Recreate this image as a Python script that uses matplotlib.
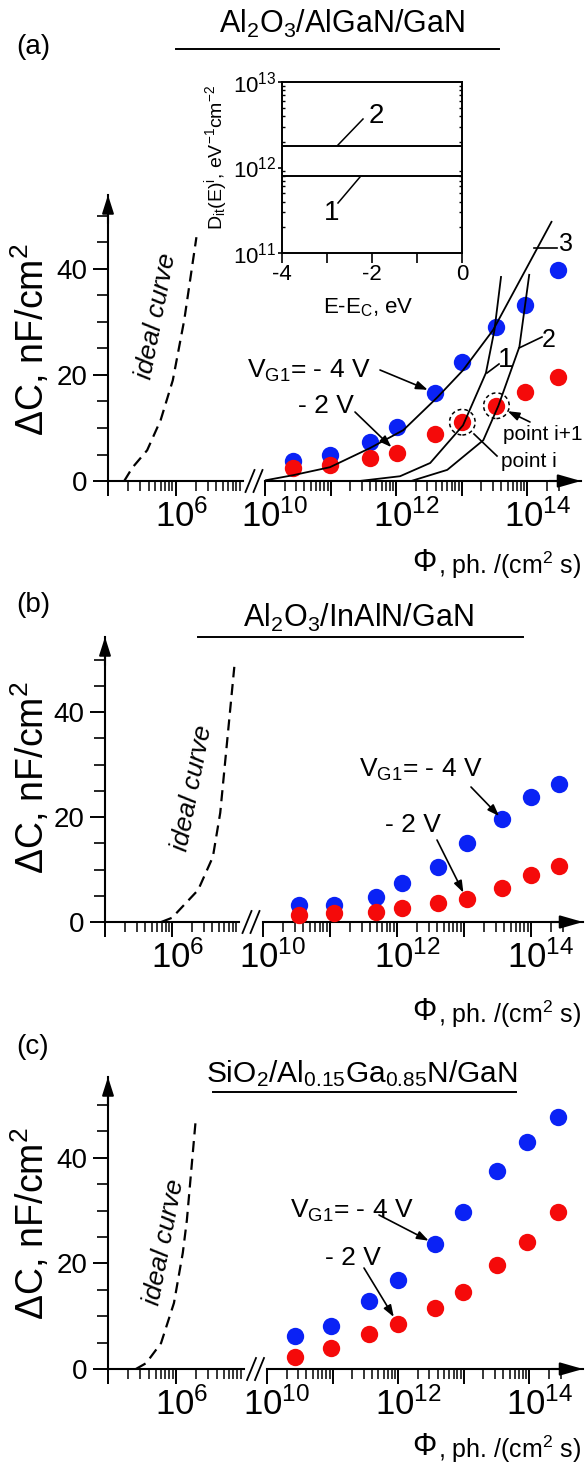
import numpy as np
import matplotlib
matplotlib.use('Agg')
import matplotlib.pyplot as plt
from matplotlib.lines import Line2D
from matplotlib.ticker import FixedLocator, FuncFormatter, LogFormatterMathtext
from matplotlib.transforms import ScaledTranslation

plt.rcParams['font.family'] = ['Liberation Sans', 'DejaVu Sans']
plt.rcParams['mathtext.fontset'] = 'custom'
plt.rcParams['mathtext.rm'] = 'Liberation Sans'
plt.rcParams['mathtext.it'] = 'Liberation Sans:italic'
plt.rcParams['mathtext.bf'] = 'Liberation Sans:bold'
plt.rcParams['axes.unicode_minus'] = False

W, H = 586, 1475
BLUE = '#0a22f5'
RED = '#f50a0a'

# ---- (a) Al2O3/AlGaN/GaN ----
LOGPHI_A = [10.43, 10.99, 11.60, 12.02, 12.60, 13.01, 13.53, 13.97, 14.47]
DC_A_4V = [3.8, 5.0, 7.4, 10.2, 16.6, 22.5, 29.0, 33.2, 39.8]
DC_A_2V = [2.5, 3.0, 4.3, 5.3, 8.9, 11.1, 14.2, 16.8, 19.6]
IDEAL_A_LOG = [5.24, 5.36, 5.58, 5.78, 5.96, 6.13, 6.31]
IDEAL_A_DC = [0.0, 2.5, 5.8, 11.5, 19.0, 30.4, 46.0]
CURVE1_LOG = [11.44, 12.06, 12.52, 13.02, 13.37, 13.50, 13.60]
CURVE1_DC = [0.0, 0.9, 3.4, 10.5, 20.4, 28.5, 38.5]
CURVE2_LOG = [12.23, 12.78, 13.33, 13.56, 13.88, 14.03]
CURVE2_DC = [0.0, 2.1, 7.7, 14.2, 25.3, 38.9]
CURVE3_LOG = [9.95, 10.43, 10.99, 11.60, 12.11, 12.63, 13.02, 13.48, 14.37]
CURVE3_DC = [0.0, 1.1, 2.6, 6.2, 9.6, 15.8, 20.9, 28.5, 48.9]

# inset: trap density profiles
E_EC = [-4.0, 0.0]
DIT_1 = [8.0e11, 8.0e11]
DIT_2 = [1.8e12, 1.8e12]

# ---- (b) Al2O3/InAlN/GaN ----
LOGPHI_B = [10.54, 11.06, 11.69, 12.07, 12.61, 13.04, 13.57, 14.00, 14.42]
DC_B_4V = [3.2, 3.2, 4.8, 7.4, 10.5, 15.0, 19.6, 23.8, 26.3]
DC_B_2V = [1.3, 1.7, 1.9, 2.7, 3.6, 4.4, 6.5, 9.0, 10.7]
IDEAL_B_LOG = [5.84, 6.00, 6.39, 6.61, 6.72, 6.93]
IDEAL_B_DC = [0.0, 0.8, 6.1, 12.4, 20.8, 48.6]

# ---- (c) SiO2/Al0.15Ga0.85N/GaN ----
LOGPHI_C = [10.43, 10.98, 11.56, 12.00, 12.56, 12.99, 13.51, 13.97, 14.44]
DC_C_4V = [6.2, 8.1, 12.9, 16.9, 23.7, 29.7, 37.5, 43.0, 47.7]
DC_C_2V = [2.3, 4.0, 6.6, 8.5, 11.6, 14.6, 19.7, 24.1, 29.7]
IDEAL_C_LOG = [5.41, 5.56, 5.78, 5.97, 6.10, 6.16, 6.29]
IDEAL_C_DC = [0.0, 1.1, 4.9, 12.5, 22.0, 28.2, 47.2]

fig = plt.figure(figsize=(W / 100, H / 100), dpi=100)


def fbox(x0, y0, x1, y1):
    """pixel box (origin top-left) -> figure rect"""
    return [x0 / W, 1 - y1 / H, (x1 - x0) / W, (y1 - y0) / H]


def fxy(x, y):
    return (x / W, 1 - y / H)


def line_px(x0, y0, x1, y1, lw=1.3):
    fig.add_artist(Line2D([x0 / W, x1 / W], [1 - y0 / H, 1 - y1 / H],
                          transform=fig.transFigure, color='k', lw=lw))


def text_px(x, y, s, **kw):
    kw.setdefault('ha', 'center')
    kw.setdefault('va', 'center')
    fig.text(x / W, 1 - y / H, s, **kw)


def shift_xlabels(ax, dx_px):
    # centre the mantissa "10" (not the whole label) under its tick
    off = ScaledTranslation(dx_px / 100, 0, fig.dpi_scale_trans)
    for t in ax.xaxis.get_major_ticks():
        t.label1.set_transform(t.label1.get_transform() + off)


def make_panel(xl0, xl1, xr0, xr1, y_zero, y_top, px_per_unit, right_end):
    ymax = (y_zero - y_top) / px_per_unit
    ax_l = fig.add_axes(fbox(xl0, y_top, xl1, y_zero))
    ax_r = fig.add_axes(fbox(xr0, y_top, xr1, y_zero))
    for ax in (ax_l, ax_r):
        ax.patch.set_visible(False)
        ax.set_xscale('log')
        ax.set_ylim(0, ymax)
        ax.spines['top'].set_visible(False)
        ax.spines['right'].set_visible(False)
        ax.spines['bottom'].set_linewidth(1.5)
        ax.spines['left'].set_linewidth(1.5)
        ax.tick_params(axis='x', which='major', direction='out', length=10.5,
                       width=1.4, labelsize=25, pad=3)
        ax.tick_params(axis='x', which='minor', direction='out', length=7,
                       width=1.1)
    ax_l.set_xlim(1e5, 1e7)
    ax_r.set_xlim(1e10, 10 ** right_end)
    ax_r.spines['left'].set_visible(False)
    ax_r.set_yticks([])

    ax_l.xaxis.set_major_locator(FixedLocator([1e5, 1e6]))
    ax_l.xaxis.set_minor_locator(FixedLocator(
        [m * 10.0 ** e for e in (5, 6) for m in range(2, 10)]))
    ax_r.xaxis.set_major_locator(FixedLocator([10.0 ** e for e in range(10, 15)]))
    ax_r.xaxis.set_minor_locator(FixedLocator(
        [m * 10.0 ** e for e in range(10, 15) for m in range(2, 10)
         if m * 10.0 ** e <= 3.1e14]))

    def fmt_l(v, pos):
        return r'$\mathdefault{10^{6}}$' if abs(np.log10(v) - 6) < 0.01 else ''

    def fmt_r(v, pos):
        e = int(round(np.log10(v)))
        return r'$\mathdefault{10^{%d}}$' % e if e % 2 == 0 else ''

    ax_l.xaxis.set_major_formatter(FuncFormatter(fmt_l))
    ax_r.xaxis.set_major_formatter(FuncFormatter(fmt_r))

    ax_l.yaxis.set_major_locator(FixedLocator([0, 20, 40]))
    ax_l.yaxis.set_minor_locator(FixedLocator([5, 10, 15, 25, 30, 35, 45, 50]))
    ax_l.tick_params(axis='y', which='major', direction='out', length=11,
                     width=1.4, labelsize=20, pad=4)
    ax_l.tick_params(axis='y', which='minor', direction='out', length=8,
                     width=1.2)
    shift_xlabels(ax_l, 6)
    shift_xlabels(ax_r, 10)

    # axis arrows
    ax_l.annotate('', xy=(0, 1), xycoords='axes fraction', xytext=(0, 0.9),
                  arrowprops=dict(arrowstyle='-|>,head_length=1.1,head_width=0.35',
                                  lw=1.5, color='k', shrinkA=0, shrinkB=0))
    ax_r.annotate('', xy=(1, 0), xycoords='axes fraction', xytext=(0.9, 0),
                  arrowprops=dict(arrowstyle='-|>,head_length=1.4,head_width=0.4',
                                  lw=1.5, color='k', shrinkA=0, shrinkB=0))

    # axis break marks
    xb = (xl1 + xr0) / 2
    for dx in (-4, 4):
        line_px(xb + dx - 4.5, y_zero + 11, xb + dx + 4.5, y_zero - 11, lw=1.3)
    return ax_l, ax_r


def draw_points(ax_r, logphi, dc4, dc2):
    phi = 10 ** np.array(logphi)
    ax_r.plot(phi, dc4, 'o', ms=12.5, color=BLUE, mec='none', zorder=3,
              clip_on=False)
    ax_r.plot(phi, dc2, 'o', ms=12.5, color=RED, mec='none', zorder=4,
              clip_on=False)
    return phi


def draw_ideal(ax_l, logs, vals):
    ax_l.plot(10 ** np.array(logs), vals, color='k', lw=1.6,
              dashes=(5, 3), zorder=5, clip_on=False)


def arrow_to(ax, xy, start_px, shrink=6, head=True):
    style = '-|>,head_length=0.7,head_width=0.25' if head else '-'
    ax.annotate('', xy=xy, xycoords='data', xytext=fxy(*start_px),
                textcoords='figure fraction',
                arrowprops=dict(arrowstyle=style, lw=1.2, color='k',
                                shrinkA=0, shrinkB=shrink))


def common_text(label, label_xy, title, title_size, title_xy, line_x, line_y,
                ylab_y, ideal_xy, phi_y):
    text_px(*label_xy, label, fontsize=20)
    text_px(title_xy[0], title_xy[1], title, fontsize=title_size,
            va='baseline')
    line_px(line_x[0], line_y, line_x[1], line_y, lw=1.4)
    text_px(31, ylab_y, r'ΔC, nF/cm$^\mathregular{2}$', fontsize=27,
            rotation=90)
    text_px(*ideal_xy, 'ideal curve', fontsize=19, style='italic',
            rotation=79, rotation_mode='anchor')
    text_px(412, phi_y, 'Φ', fontsize=22, ha='left')
    text_px(438, phi_y + 2, r', ph. /(cm$^\mathregular{2}$ s)', fontsize=18,
            ha='left')


VG4 = r'V$_\mathregular{G1}$= - 4 V'

# ================= panel (a) =================
axL, axR = make_panel(108, 243, 265, 581, 481, 195, 5.3, 14.82)
phi_a = draw_points(axR, LOGPHI_A, DC_A_4V, DC_A_2V)
draw_ideal(axL, IDEAL_A_LOG, IDEAL_A_DC)
for lg, dc in ((CURVE1_LOG, CURVE1_DC), (CURVE2_LOG, CURVE2_DC),
               (CURVE3_LOG, CURVE3_DC)):
    axR.plot(10 ** np.array(lg), dc, color='k', lw=1.3, zorder=6)
axR.scatter(phi_a[[5, 6]], np.array(DC_A_2V)[[5, 6]], s=340,
            facecolors='none', edgecolors='k', linewidths=1.1,
            linestyles=(0, (2.5, 2)), zorder=7)
common_text('(a)', (33, 47), r'Al$_\mathregular{2}$O$_\mathregular{3}$/AlGaN/GaN',
            22, (342, 33), (176, 499), 49, 340, (156, 316), 563)
text_px(247, 378, VG4, fontsize=19, ha='left', va='baseline')
arrow_to(axR, (phi_a[4], DC_A_4V[4]), (380, 370))
text_px(298, 413, '- 2 V', fontsize=19, ha='left', va='baseline')
arrow_to(axR, (phi_a[3], DC_A_2V[3]), (355, 412))
text_px(503, 435, 'point i+1', fontsize=15, ha='left')
arrow_to(axR, (phi_a[6], DC_A_2V[6]), (530, 422), shrink=9)
text_px(501, 462, 'point i', fontsize=15, ha='left')
line_px(497, 456, 474, 434, lw=1.2)
# curve labels
text_px(566, 244, '3', fontsize=18)
line_px(534, 248, 557, 248, lw=1.2)
text_px(506, 360, '1', fontsize=20)
line_px(487, 373, 499, 364, lw=1.2)
text_px(549, 340, '2', fontsize=18)
line_px(519, 348, 542, 337, lw=1.2)

# inset
ins = fig.add_axes(fbox(282, 82, 462, 253))
ins.set_yscale('log')
ins.set_xlim(-4, 0)
ins.set_ylim(1e11, 1e13)
ins.plot(E_EC, DIT_1, color='k', lw=1.4)
ins.plot(E_EC, DIT_2, color='k', lw=1.4)
for s in ins.spines.values():
    s.set_linewidth(1.4)
ins.xaxis.set_major_locator(FixedLocator([-4, -3, -2, -1, 0]))
ins.xaxis.set_major_formatter(FuncFormatter(
    lambda v, p: '%d' % v if int(round(v)) % 2 == 0 else ''))
ins.yaxis.set_major_locator(FixedLocator([1e11, 1e12, 1e13]))
ins.yaxis.set_major_formatter(LogFormatterMathtext())
ins.tick_params(axis='x', direction='out', length=7, width=1.2,
                labelsize=16, pad=1)
ins.tick_params(axis='y', which='major', direction='out', length=3,
                width=1.2, labelsize=16, pad=1)
ins.tick_params(axis='y', which='minor', direction='in', length=2.5,
                width=1.0, left=True, right=True)
text_px(368, 308, r'E-E$_\mathregular{C}$, eV', fontsize=16)
text_px(216, 157, r'D$_\mathregular{it}$(E)$^\mathregular{i}$, '
        r'eV$^\mathregular{-1}$cm$^\mathregular{-2}$', fontsize=14, rotation=90)
text_px(376, 116, '2', fontsize=20)
line_px(338, 145, 363, 119, lw=1.1)
text_px(332, 213, '1', fontsize=20)
line_px(338, 203, 360, 177, lw=1.1)

# ================= panel (b) =================
axL, axR = make_panel(105, 239, 263, 583, 922, 637, 5.25, 14.78)
phi_b = draw_points(axR, LOGPHI_B, DC_B_4V, DC_B_2V)
draw_ideal(axL, IDEAL_B_LOG, IDEAL_B_DC)
common_text('(b)', (33, 605), r'Al$_\mathregular{2}$O$_\mathregular{3}$/InAlN/GaN',
            22, (358, 627), (198, 523), 637, 778, (192, 788), 1012)
text_px(359, 777, VG4, fontsize=19, ha='left', va='baseline')
arrow_to(axR, (phi_b[6], DC_B_4V[6]), (471, 787), shrink=3)
text_px(385, 832, '- 2 V', fontsize=19, ha='left', va='baseline')
arrow_to(axR, (phi_b[5], DC_B_2V[5]), (437, 840), shrink=5)

# ================= panel (c) =================
axL, axR = make_panel(108, 244, 267, 583, 1369, 1077, 5.28, 14.82)
phi_c = draw_points(axR, LOGPHI_C, DC_C_4V, DC_C_2V)
draw_ideal(axL, IDEAL_C_LOG, IDEAL_C_DC)
common_text('(c)', (33, 1047),
            r'SiO$_\mathregular{2}$/Al$_\mathregular{0.15}$Ga$_\mathregular{0.85}$N/GaN',
            21.5, (362, 1082), (213, 516), 1092, 1224, (164, 1242), 1447)
text_px(290, 1218, VG4, fontsize=19, ha='left', va='baseline')
arrow_to(axR, (phi_c[4], DC_C_4V[4]), (379, 1215), shrink=5)
text_px(325, 1265, '- 2 V', fontsize=19, ha='left', va='baseline')
arrow_to(axR, (phi_c[3], DC_C_2V[3]), (364, 1268), shrink=6)

fig.savefig('out.png', dpi=100)
